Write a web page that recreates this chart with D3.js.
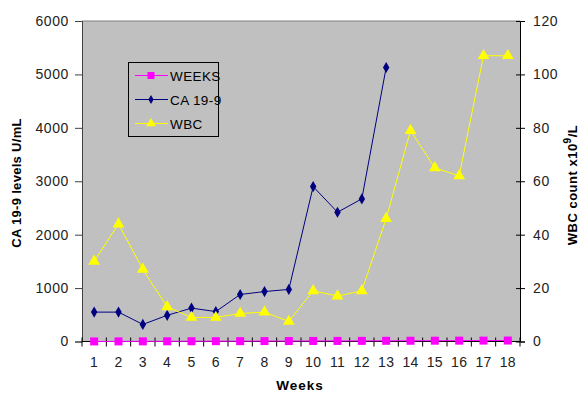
<!DOCTYPE html>
<html><head><meta charset="utf-8">
<script src="https://cdn.jsdelivr.net/npm/d3@7"></script>
<style>body{margin:0;background:#fff}svg{display:block}text{font-family:"Liberation Sans",Arial,sans-serif}</style>
</head><body><svg id="c" width="580" height="397"></svg>
<script>
const weeksCat = ["1","2","3","4","5","6","7","8","9","10","11","12","13","14","15","16","17","18"];
const weeksSeries = [1,2,3,4,5,6,7,8,9,10,11,12,13,14,15,16,17,18];
const ca199 = [550,550,320,490,625,560,880,935,975,2900,2420,2670,5130];
const wbc = [30,44,27,13,9,9,10.5,11,7.5,19,17,19,46,79,65,62,107,107];
const leftTicks = [0,1000,2000,3000,4000,5000,6000];
const rightTicks = [0,20,40,60,80,100,120];

const svg = d3.select("#c");
const L=82, R=520, T=21, B=341.5;
const x = d3.scaleBand().domain(weeksCat).range([L,R]);
const yL = d3.scaleLinear().domain([0,6000]).range([B,T]);
const yR = d3.scaleLinear().domain([0,120]).range([B,T]);
const cx = d => x(d)+x.bandwidth()/2;

svg.append("rect").attr("x",L).attr("y",T).attr("width",R-L).attr("height",B-T).attr("fill","#c0c0c0");
svg.append("line").attr("x1",L).attr("x2",R).attr("y1",T).attr("y2",T).attr("stroke","#808080");

// left axis
const ga = svg.append("g").attr("transform",`translate(${L},0)`).call(d3.axisLeft(yL).tickValues(leftTicks).tickSize(7).tickPadding(6).tickFormat(d3.format("d")));
ga.select(".domain").attr("stroke","#404040");
ga.selectAll(".tick line").attr("stroke","#404040");
ga.selectAll("text").attr("font-size",14).attr("letter-spacing",0.6).attr("fill","#222");

// right axis
const gr = svg.append("g").attr("transform",`translate(${R},0)`).call(d3.axisRight(yR).tickValues(rightTicks).tickSize(5).tickPadding(8));
gr.select(".domain").attr("stroke","#000");
gr.selectAll(".tick line").attr("x1",-4).attr("stroke","#000");
gr.selectAll("text").attr("font-size",14).attr("letter-spacing",0.6).attr("fill","#222");

// x axis
const gx = svg.append("g").attr("transform",`translate(0,${B})`).call(d3.axisBottom(x).tickSize(0).tickPadding(16));
gx.select(".domain").remove();
gx.selectAll("text").attr("font-size",14).attr("letter-spacing",0.3).attr("fill","#222");
svg.append("line").attr("x1",L).attr("x2",R).attr("y1",B).attr("y2",B).attr("stroke","#000");
const bounds = weeksCat.map(d=>x(d)).concat([R]);
svg.append("g").selectAll("line").data(bounds).join("line")
  .attr("x1",d=>d).attr("x2",d=>d).attr("y1",B-4).attr("y2",B+5).attr("stroke","#000");

// WEEKS series
const lineW = d3.line().x((d,i)=>cx(weeksCat[i])).y(d=>yL(d));
svg.append("path").datum(weeksSeries).attr("d",lineW).attr("fill","none").attr("stroke","#ff00ff").attr("stroke-width",1);
svg.append("g").selectAll("rect").data(weeksSeries).join("rect")
  .attr("x",(d,i)=>cx(weeksCat[i])-4).attr("y",d=>yL(d)-4).attr("width",8).attr("height",8).attr("fill","#ff00ff");

// CA 19-9
const lineC = d3.line().x((d,i)=>cx(weeksCat[i])).y(d=>yL(d));
svg.append("path").datum(ca199).attr("d",lineC).attr("fill","none").attr("stroke","#000080").attr("stroke-width",1);
const diamond = d3.symbol().type(d3.symbolDiamond).size(36);
svg.append("g").selectAll("path").data(ca199).join("path")
  .attr("transform",(d,i)=>`translate(${cx(weeksCat[i])},${yL(d)})`).attr("d",diamond).attr("fill","#000080");

// WBC
const lineB = d3.line().x((d,i)=>cx(weeksCat[i])).y(d=>yR(d));
svg.append("path").datum(wbc).attr("d",lineB).attr("fill","none").attr("stroke","#ffff00").attr("stroke-width",1);
const tri = d3.symbol().type(d3.symbolTriangle).size(60);
svg.append("g").selectAll("path").data(wbc).join("path")
  .attr("transform",(d,i)=>`translate(${cx(weeksCat[i])},${yR(d)})`).attr("d",tri).attr("fill","#ffff00");

// legend
const lg = svg.append("g");
lg.append("rect").attr("x",128.5).attr("y",62.5).attr("width",90).attr("height",74).attr("fill","#c0c0c0").attr("stroke","#000");
const items = [["WEEKS","#ff00ff","sq"],["CA 19-9","#000080","dia"],["WBC","#ffff00","tri"]];
const diaS = d3.symbol().type(d3.symbolDiamond).size(24);
const triS = d3.symbol().type(d3.symbolTriangle).size(40);
items.forEach((it,i)=>{
  const yy = 75.5 + i*24;
  lg.append("line").attr("x1",135).attr("x2",168).attr("y1",yy).attr("y2",yy).attr("stroke",it[1]);
  if(it[2]==="sq") lg.append("rect").attr("x",147.5).attr("y",yy-3.5).attr("width",7).attr("height",7).attr("fill",it[1]);
  else lg.append("path").attr("transform",`translate(151,${yy})`).attr("d",it[2]==="dia"?diaS:triS).attr("fill",it[1]);
  lg.append("text").attr("x",170).attr("y",yy+5).attr("font-size",13.5).attr("letter-spacing",0.4).attr("fill","#000").text(it[0]);
});

// axis titles
svg.append("text").attr("transform","translate(21,183) rotate(-90)").attr("text-anchor","middle")
  .attr("font-size",13).attr("letter-spacing",0.3).attr("font-weight","bold").text("CA 19-9 levels U/mL");
const rt = svg.append("text").attr("transform","translate(577,185) rotate(-90)").attr("text-anchor","middle")
  .attr("font-size",13).attr("letter-spacing",0.5).attr("font-weight","bold");
rt.append("tspan").text("WBC count x10");
rt.append("tspan").attr("dy",-6).attr("font-size",10).text("9");
rt.append("tspan").attr("dy",6).text("/L");
svg.append("text").attr("x",300).attr("y",390).attr("text-anchor","middle").attr("font-size",13.5).attr("letter-spacing",1).attr("font-weight","bold").text("Weeks");
</script></body></html>
